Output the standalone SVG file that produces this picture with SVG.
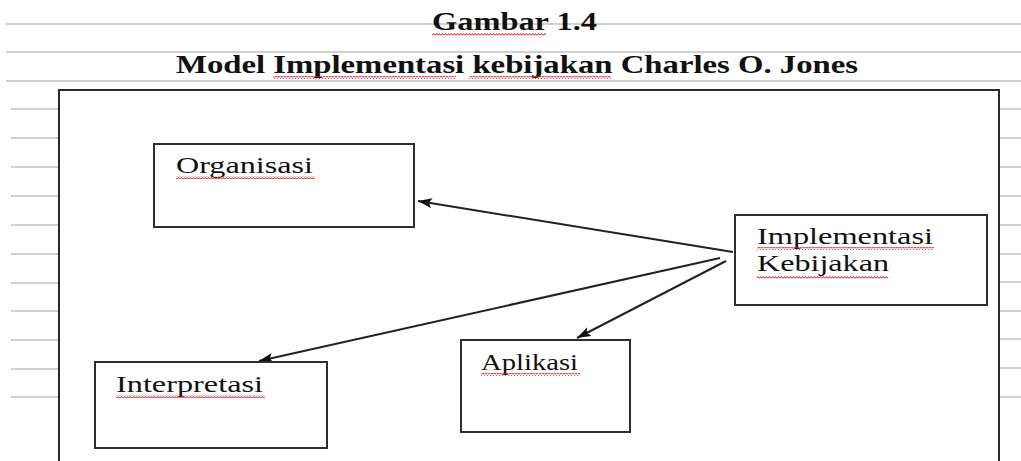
<svg xmlns="http://www.w3.org/2000/svg" width="1021" height="461" viewBox="0 0 1021 461">
  <style>
    .rule { stroke: #d0d0d0; stroke-width: 2; fill: none; }
    .frame { stroke: #2a2a2a; stroke-width: 2; fill: none; }
    .box { stroke: #2e2e2e; stroke-width: 2; fill: #ffffff; }
    .title { font-family: "Liberation Serif", "Times New Roman", serif; font-weight: bold; font-size: 26px; fill: #111; }
    .label { font-family: "Liberation Serif", "Times New Roman", serif; font-size: 23px; fill: #111; }
    .link { stroke: #222; stroke-width: 2; fill: none; marker-end: url(#arrow); }
    .spell { fill: url(#squiggle); }
  </style>
  <defs>
    <marker id="arrow" viewBox="0 0 14 10" refX="14" refY="5" markerWidth="14" markerHeight="10" markerUnits="userSpaceOnUse" orient="auto">
      <path d="M0,0 L14,5 L0,10 L3,5 Z" fill="#111"/>
    </marker>
    <pattern id="squiggle" x="0" y="0" width="3" height="3" patternUnits="userSpaceOnUse">
      <path d="M0,2.5 L1.5,0.5 L3,2.5" stroke="#e8191c" stroke-width="1" fill="none"/>
    </pattern>
  </defs>

  <rect width="1021" height="461" fill="#ffffff"/>

  <!-- ruled page lines -->
  <g id="page-rules">
    <line class="rule" x1="6" y1="24" x2="1021" y2="24"/>
    <line class="rule" x1="6" y1="52" x2="1021" y2="52"/>
    <line class="rule" x1="6" y1="81" x2="1021" y2="81"/>
    <g id="rules-left">
      <line class="rule" x1="11" y1="109" x2="58" y2="109"/>
      <line class="rule" x1="11" y1="138" x2="58" y2="138"/>
      <line class="rule" x1="11" y1="167" x2="58" y2="167"/>
      <line class="rule" x1="11" y1="196" x2="58" y2="196"/>
      <line class="rule" x1="11" y1="225" x2="58" y2="225"/>
      <line class="rule" x1="11" y1="254" x2="58" y2="254"/>
      <line class="rule" x1="11" y1="283" x2="58" y2="283"/>
      <line class="rule" x1="11" y1="311" x2="58" y2="311"/>
      <line class="rule" x1="11" y1="340" x2="58" y2="340"/>
      <line class="rule" x1="11" y1="369" x2="58" y2="369"/>
      <line class="rule" x1="11" y1="397" x2="58" y2="397"/>
    </g>
    <g id="rules-right">
      <line class="rule" x1="1000" y1="109" x2="1021" y2="109"/>
      <line class="rule" x1="1000" y1="138" x2="1021" y2="138"/>
      <line class="rule" x1="1000" y1="167" x2="1021" y2="167"/>
      <line class="rule" x1="1000" y1="196" x2="1021" y2="196"/>
      <line class="rule" x1="1000" y1="225" x2="1021" y2="225"/>
      <line class="rule" x1="1000" y1="254" x2="1021" y2="254"/>
      <line class="rule" x1="1000" y1="282" x2="1021" y2="282"/>
      <line class="rule" x1="1000" y1="311" x2="1021" y2="311"/>
      <line class="rule" x1="1000" y1="339" x2="1021" y2="339"/>
      <line class="rule" x1="1000" y1="368" x2="1021" y2="368"/>
      <line class="rule" x1="1000" y1="397" x2="1021" y2="397"/>
    </g>
  </g>

  <!-- headings -->
  <g id="heading">
    <text class="title" x="432" y="30" textLength="165" lengthAdjust="spacingAndGlyphs">Gambar 1.4</text>
    <rect class="spell" x="432" y="33" width="114" height="3"/>
    <text class="title" x="176" y="73" textLength="682" lengthAdjust="spacingAndGlyphs">Model Implementasi kebijakan Charles O. Jones</text>
    <rect class="spell" x="273" y="76" width="183" height="3"/>
    <rect class="spell" x="469" y="76" width="142" height="3"/>
  </g>

  <!-- outer frame -->
  <path class="frame" d="M59,462 L59,90 L999,90 L999,462"/>

  <!-- connectors -->
  <g id="connectors">
    <line class="link" x1="733" y1="252" x2="418" y2="201"/>
    <line class="link" x1="720" y1="258" x2="259" y2="361"/>
    <line class="link" x1="726" y1="261" x2="577" y2="338"/>
  </g>

  <!-- nodes -->
  <g id="node-organisasi">
    <rect class="box" x="154" y="144" width="260" height="83"/>
    <text class="label" x="176" y="173" textLength="137" lengthAdjust="spacingAndGlyphs">Organisasi</text>
    <rect class="spell" x="176" y="176" width="139" height="3"/>
  </g>

  <g id="node-implementasi">
    <rect class="box" x="735" y="215" width="252" height="90"/>
    <text class="label" x="757" y="244" textLength="176" lengthAdjust="spacingAndGlyphs">Implementasi</text>
    <rect class="spell" x="757" y="247" width="177" height="3"/>
    <text class="label" x="757" y="271" textLength="132" lengthAdjust="spacingAndGlyphs">Kebijakan</text>
    <rect class="spell" x="757" y="276" width="131" height="3"/>
  </g>

  <g id="node-aplikasi">
    <rect class="box" x="461" y="340" width="169" height="92"/>
    <text class="label" x="481" y="370" textLength="97" lengthAdjust="spacingAndGlyphs">Aplikasi</text>
    <rect class="spell" x="481" y="373" width="99" height="3"/>
  </g>

  <g id="node-interpretasi">
    <rect class="box" x="95" y="362" width="232" height="86"/>
    <text class="label" x="116" y="392" textLength="147" lengthAdjust="spacingAndGlyphs">Interpretasi</text>
    <rect class="spell" x="116" y="395" width="149" height="3"/>
  </g>
</svg>
